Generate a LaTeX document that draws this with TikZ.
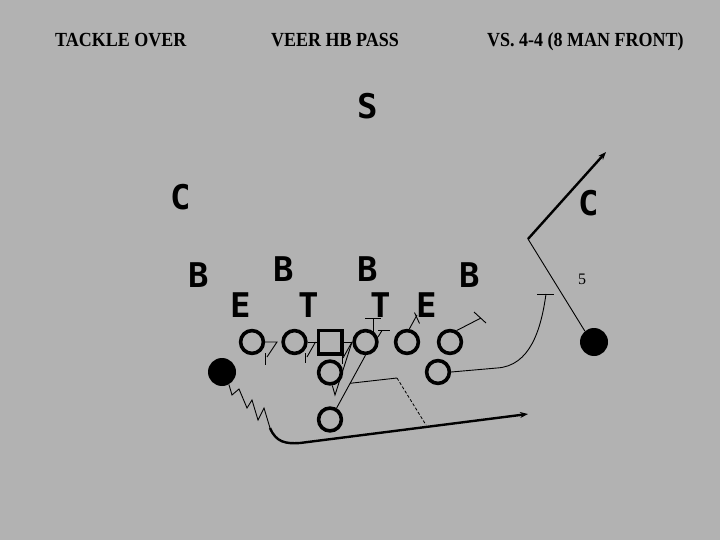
\documentclass[tikz,border=0pt]{standalone}
\usepackage{fontspec}
\setmainfont{Liberation Serif}
\newfontfamily\blkfont{DejaVu Sans Mono}
\usetikzlibrary{arrows.meta}
\definecolor{bg}{RGB}{178,178,178}
\tikzset{
  hdr/.style={anchor=base west, inner sep=0pt, font=\bfseries\fontsize{20}{20}\selectfont},
  def/.style={inner sep=0pt, font=\blkfont\bfseries\fontsize{34}{34}\selectfont},
  ol/.style={circle, draw, line width=3.6pt, minimum size=22.8pt, inner sep=0pt},
  ctr/.style={rectangle, draw, line width=3.6pt, minimum size=23.4pt, inner sep=0pt},
  dot/.style={circle, fill=black, minimum size=28pt, inner sep=0pt},
  thin/.style={line width=0.9pt},
  route/.style={line width=2.4pt, -{Stealth[length=8pt,width=6pt]}},
  dsh/.style={line width=0.8pt, dash pattern=on 3pt off 2pt},
}
\begin{document}
\begin{tikzpicture}[x=1pt, y=-1pt]
\fill[bg] (0,0) rectangle (720,540);
\useasboundingbox (0,0) rectangle (720,540);

% headers
\node[hdr] (h1) at (55,46.5) {\scalebox{0.9}[1]{TACKLE OVER}};
\node[hdr] (h2) at (271,46.5) {\scalebox{0.9}[1]{VEER HB PASS}};
\node[hdr] (h3) at (487,46.5) {\scalebox{0.9}[1]{VS. 4-4 (8 MAN FRONT)}};

% defense
\node[def] (s) at (368,106) {S};
\node[def] (cl) at (181,197) {C};
\node[def] (cr) at (589,203) {C};
\node[def] (b1) at (199,275) {B};
\node[def] (b2) at (284,269) {B};
\node[def] (b3) at (368,269) {B};
\node[def] (b4) at (470,275) {B};
\node[def] (e1) at (241,305) {E};
\node[def] (t1) at (309,305) {T};
\node[def] (t2) at (381,305) {T};
\node[def] (e2) at (427,305) {E};
\node[inner sep=0pt, font=\fontsize{16}{16}\selectfont] (five) at (582,279) {5};

% offense
\node[ol] (o1) at (252,342) {};
\node[ol] (o2) at (294.5,342) {};
\node[ctr] (sq) at (330,342) {};
\node[ol] (o4) at (365.5,342) {};
\node[ol] (o5) at (407,342) {};
\node[ol] (o6) at (450,342) {};
\node[ol] (qb) at (330,372.5) {};
\node[ol] (rb) at (438,372) {};
\node[ol] (fb) at (330,419.5) {};
\node[dot] (hb) at (222,372) {};
\node[dot] (wr) at (594,342) {};

% line blocks
\draw[thin] (o1.east) -- (277,342) -- (267,357);
\draw[thin] (265,353) -- (265,365);
\draw[thin] (o2.east) -- (sq.west);
\draw[thin] (315.5,342) -- (307,357);
\draw[thin] (305,353) -- (305,363);
\draw[thin] (sq.east) -- (o4.west);
\draw[thin] (352,342) -- (343,358);
\draw[thin] (342,354) -- (342,364);
\draw[thin] (373,331.5) -- (373,318);
\draw[thin] (365,318) -- (381,318);
\draw[thin] (378,337) -- (382,330.5);
\draw[thin] (378,330.5) -- (390,330.5);
\draw[thin] (o5.80) -- (417,315);
\draw[thin] (414.5,312.5) -- (419.5,323.5);
\draw[thin] (o6.60) -- (481,318);
\draw[thin] (474,312) -- (486,323);

% backfield
\coordinate (v) at (335,395);
\draw[thin] (qb.-80) -- (v) -- (352,342);
\draw[thin] (fb.60) -- (o4.south);
\coordinate (d1) at (350,383.3);
\coordinate (d2) at (397,378);
\draw[thin] (d1) -- (d2);
\draw[dsh] (d2) -- (426,425);

% right back route
\coordinate (rbk) at (497,368);
\coordinate (rbe) at (546,294);
\draw[thin] (rb.east) -- (rbk) .. controls (530,366) and (541,330) .. (rbe);
\draw[thin] (537,294) -- (554,294);

% receiver route
\coordinate (cut) at (528,239);
\draw[thin] (wr.130) -- (cut);
\draw[route] (cut) -- (606,152);

% halfback route
\coordinate (z) at (270,428);
\draw[thin] (hb.-61) -- (232,395) -- (239,389) -- (247,408) -- (252,400) -- (258,420) -- (264,408) -- (z);
\draw[route] (z) .. controls (276,442) and (285,444) .. (300,443) -- (528,414);
\end{tikzpicture}
\end{document}
